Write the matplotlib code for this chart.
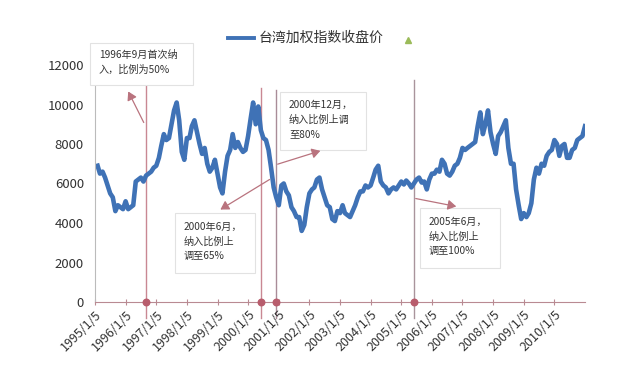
import matplotlib
matplotlib.use("Agg")
import matplotlib.pyplot as plt
import pandas as pd

plt.rcParams["font.family"] = ["Noto Sans CJK SC", "DejaVu Sans"]

# monthly close of TAIEX, 1995/1 .. 2010/12
taiex = [
    # 1995
    6900, 6500, 6600, 6300, 5900, 5500, 5300, 4600, 4900, 4800, 4700, 5100,
    # 1996
    4700, 4800, 4900, 6100, 6200, 6300, 6100, 6400, 6500, 6600, 6800, 6900,
    # 1997
    7300, 7900, 8500, 8200, 8300, 9000, 9700, 10100, 9200, 7600, 7200, 8300,
    # 1998
    8300, 8900, 9200, 8600, 8000, 7500, 7800, 7000, 6600, 6800, 7200, 6500,
    # 1999
    5800, 5500, 6600, 7400, 7700, 8500, 7800, 8100, 7800, 7600, 7700, 8400,
    # 2000
    9300, 10100, 9000, 9900, 8700, 8300, 8200, 7700, 6800, 5800, 5300, 4900,
    # 2001
    5900, 6000, 5600, 5400, 4800, 4600, 4300, 4300, 3600, 3900, 4800, 5500,
    # 2002
    5700, 5800, 6200, 6300, 5700, 5300, 4900, 4800, 4200, 4100, 4600, 4500,
    # 2003
    4900, 4500, 4400, 4300, 4600, 4900, 5300, 5600, 5600, 5900, 5800, 5900,
    # 2004
    6300, 6700, 6900, 6100, 5900, 5800, 5500, 5700, 5800, 5700, 5900, 6100,
    # 2005
    5950, 6150, 6000, 5800, 6000, 6200, 6300, 6050, 6100, 5700, 6200, 6500,
    # 2006
    6500, 6700, 6600, 7200, 7000, 6500, 6400, 6600, 6900, 7000, 7300, 7800,
    # 2007
    7700, 7800, 7900, 8000, 8100, 8900, 9600, 8500, 9000, 9700, 8600, 8000,
    # 2008
    7500, 8400, 8600, 8900, 9200, 7800, 7000, 7000, 5700, 4900, 4200, 4500,
    # 2009
    4300, 4500, 5000, 6200, 6800, 6500, 7000, 6900, 7400, 7600, 7700, 8200,
    # 2010
    8000, 7400, 7900, 8000, 7300, 7300, 7700, 7800, 8200, 8300, 8400, 8900,
]
dates = pd.date_range("1995-01-05", periods=len(taiex), freq="MS") + pd.Timedelta(days=4)

tick_years = list(range(1995, 2011))
tick_labels = [f"{y}/1/5" for y in tick_years]

# policy events: date, top of marker line
event_dates = ["1996-09-01", "2000-06-01", "2000-12-01", "2005-06-01"]
event_tops = [11000, 10850, 10750, 11250]

notes = [
    "1996年9月首次纳\n入，比例为50%",
    "2000年12月，\n纳入比例上调\n至80%",
    "2000年6月，\n纳入比例上\n调至65%",
    "2005年6月，\n纳入比例上\n调至100%",
]

W, H = 638, 373
fig = plt.figure(figsize=(W / 100, H / 100), dpi=100)
ax = fig.add_axes([95 / W, 1 - 302 / H, 490 / W, 237 / H])

line_color = "#3f72b6"
ax.plot(dates, taiex, color=line_color, lw=3.3, solid_joinstyle="round")

ax.set_ylim(0, 12000)
ax.set_yticks(range(0, 12001, 2000))
ax.set_xlim(pd.Timestamp("1995-01-05"), pd.Timestamp("2011-01-05"))
ax.set_xticks([pd.Timestamp(f"{y}-01-05") for y in tick_years])
ax.set_xticklabels(tick_labels, rotation=45, ha="right", rotation_mode="anchor")

for s in ["top", "right"]:
    ax.spines[s].set_visible(False)
ax.spines["left"].set_bounds(0, 11000)
ax.spines["left"].set_color("#bbbbbb")
ax.spines["bottom"].set_color("#b98a92")
ax.tick_params(axis="y", length=0, labelsize=9.5, colors="#333333", pad=8)
ax.tick_params(axis="x", direction="inout", length=5, color="#b98a92",
               labelsize=9, labelcolor="#333333", pad=2)

ev = pd.to_datetime(event_dates)
ev_colors = ["#c98893", "#c98893", "#a98c98", "#a9949c"]
for d, top, c in zip(ev, event_tops, ev_colors):
    ax.plot([d, d], [-800, top], color=c, lw=1, clip_on=False, zorder=1)
ax.scatter(ev, [0] * len(ev), s=22, color="#b85c6c", zorder=4, clip_on=False)


def px(x, y):
    return x / W, 1 - y / H


# note boxes: top-left corner of text (pixels from top-left)
note_pos = [(99, 50), (289, 100), (184, 222), (429, 217)]
box_rect = [(90, 43, 103, 42), (280, 92, 86, 58), (175, 213, 80, 60), (420, 208, 80, 60)]
for (tx, ty), (bx, by, bw, bh), txt in zip(note_pos, box_rect, notes):
    fig.patches.append(plt.Rectangle(px(bx, by + bh), bw / W, bh / H,
                                     transform=fig.transFigure, fc="white",
                                     ec="#e2e2e2", lw=0.8, zorder=5))
    fig.text(*px(tx, ty), txt, fontsize=7.3, color="#333333", va="top",
             ha="left", linespacing=1.55, zorder=6)

arrow_color = "#b9737e"
arrows = [((145, 125), (127, 89)), ((275, 165), (323, 150)),
          ((272, 178), (218, 211)), ((413, 198), (459, 207))]
for tail, head in arrows:
    fig.add_artist(matplotlib.patches.FancyArrowPatch(
        px(*tail), px(*head), transform=fig.transFigure,
        arrowstyle="-|>,head_length=5,head_width=3", color=arrow_color,
        lw=0.9, zorder=7))

# legend
fig.add_artist(matplotlib.lines.Line2D([228 / W, 254 / W], [1 - 38 / H] * 2,
                                       color=line_color, lw=2.8))
fig.text(*px(259, 38), "台湾加权指数收盘价", fontsize=10, color="#333333",
         va="center", ha="left")
fig.add_artist(matplotlib.lines.Line2D([408 / W], [1 - 40 / H], marker="^",
                                       color="#9bbb59", ms=5, lw=0))

fig.savefig("out.png", dpi=100)
